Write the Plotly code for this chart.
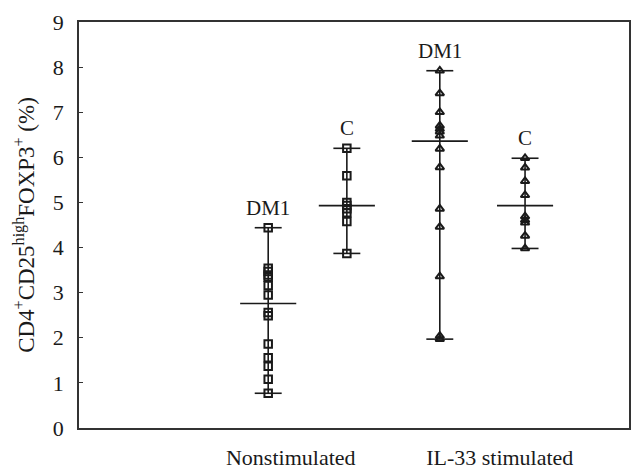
import plotly.graph_objects as go

# ---- data ----
group_names = ["DM1", "C", "DM1", "C"]
group_pos = [3.44, 4.87, 6.56, 8.11]
nonstim_dm1 = [4.44, 3.54, 3.47, 3.39, 3.34, 3.16, 2.95, 2.56, 2.49, 1.86, 1.56, 1.37, 1.08, 0.77]
nonstim_c = [6.20, 5.59, 5.00, 4.93, 4.86, 4.77, 4.58, 3.87]
il33_dm1 = [7.92, 7.42, 7.00, 6.70, 6.63, 6.57, 6.48, 6.19, 5.78, 4.86, 4.46, 3.36, 2.04, 1.97]
il33_c = [5.98, 5.77, 5.47, 5.16, 4.69, 4.61, 4.55, 4.26, 3.98]
center_vals = [2.76, 4.93, 6.36, 4.93]
x_labels = ["Nonstimulated", "IL-33 stimulated"]
x_label_pos = [3.85, 7.65]
y_ticks = list(range(0, 10))

groups = [nonstim_dm1, nonstim_c, il33_dm1, il33_c]
symbols = ["square-open", "square-open", "triangle-up-open", "triangle-up-open"]

FONT = "Liberation Serif"
INK = "#1a1a1a"
WHISK = 0.245
CENTER = 0.51

fig = go.Figure()
for pos, vals, sym, cval, name in zip(group_pos, groups, symbols, center_vals, group_names):
    lo, hi = min(vals), max(vals)
    fig.add_trace(go.Scatter(x=[pos, pos], y=[lo, hi], mode="lines",
                             line=dict(color=INK, width=1.6), hoverinfo="skip", showlegend=False))
    for v in (lo, hi):
        fig.add_trace(go.Scatter(x=[pos - WHISK, pos + WHISK], y=[v, v], mode="lines",
                                 line=dict(color=INK, width=1.6), hoverinfo="skip", showlegend=False))
    fig.add_trace(go.Scatter(x=[pos - CENTER, pos + CENTER], y=[cval, cval], mode="lines",
                             line=dict(color=INK, width=1.6), hoverinfo="skip", showlegend=False))
    fig.add_trace(go.Scatter(x=[pos] * len(vals), y=vals, mode="markers",
                             marker=dict(symbol=sym, size=7.5, color=INK,
                                         line=dict(color=INK, width=2)),
                             showlegend=False))
    fig.add_annotation(x=pos, y=hi, text=name, showarrow=False, yanchor="bottom",
                       yshift=6, font=dict(family=FONT, size=21, color=INK))

# the page body adds an 8px offset, so margins compensate for it
fig.update_layout(
    width=644, height=472,
    margin=dict(l=71, r=23, t=14, b=52),
    paper_bgcolor="white", plot_bgcolor="white",
    font=dict(family=FONT, color=INK),
)
fig.update_xaxes(range=[0, 10], showgrid=False, zeroline=False, automargin=False,
                 showline=True, linecolor="#333", linewidth=1.5, mirror=True,
                 tickvals=x_label_pos, ticktext=x_labels, ticks="",
                 ticklabelstandoff=9, tickfont=dict(family=FONT, size=22, color=INK))
fig.update_yaxes(range=[0, 9], tickvals=y_ticks, showgrid=False, zeroline=False, automargin=False,
                 showline=True, linecolor="#333", linewidth=1.5, mirror=True,
                 ticks="inside", ticklen=4, tickcolor="#333", ticklabelstandoff=9,
                 tickfont=dict(family=FONT, size=22, color=INK),
                 title=dict(text="CD4<sup>+</sup>CD25<sup>high</sup>FOXP3<sup>+</sup> (%)",
                            font=dict(family=FONT, size=23, color=INK), standoff=12))

fig.write_html("out.html")
